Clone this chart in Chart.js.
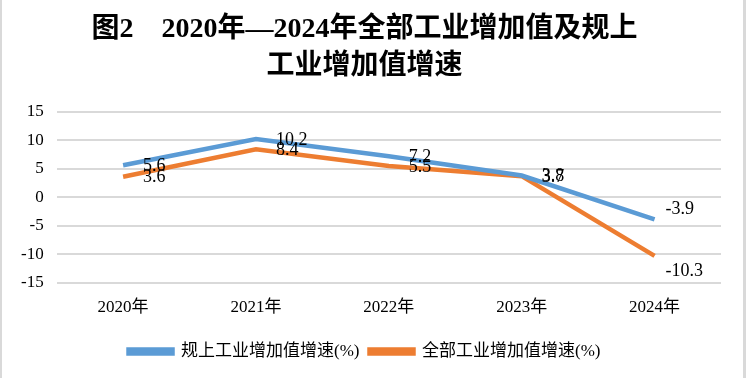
<!DOCTYPE html>
<html>
<head>
<meta charset="utf-8">
<script src="https://cdn.jsdelivr.net/npm/chart.js@4.4.1/dist/chart.umd.min.js"></script>
<style>
  html, body { margin: 0; padding: 0; background: #fff; }
  #wrap { width: 746px; height: 378px; position: relative; }
</style>
</head>
<body>
<div id="wrap"><canvas id="myChart" width="746" height="378"></canvas></div>
<script>
// data
var years = ['2020年', '2021年', '2022年', '2023年', '2024年'];
var guishang = [5.6, 10.2, 7.2, 3.8, -3.9];   // 规上工业增加值增速(%)
var quanbu = [3.6, 8.4, 5.5, 3.7, -10.3];     // 全部工业增加值增速(%)
var yTicks = [-15, -10, -5, 0, 5, 10, 15];

var serif = '"Liberation Serif", "Times New Roman", "Noto Sans CJK SC", serif';

// value labels to the right of each point (last ones nudged like the original)
var pointLabels = {
  id: 'pointLabels',
  afterDatasetsDraw: function(chart) {
    var ctx = chart.ctx;
    ctx.save();
    ctx.font = '18px ' + serif;
    ctx.fillStyle = '#000';
    ctx.textBaseline = 'middle';
    ctx.textAlign = 'left';
    chart.data.datasets.forEach(function(ds, i) {
      var meta = chart.getDatasetMeta(i);
      meta.data.forEach(function(pt, j) {
        var dx = 20, dy = 1;
        if (j === meta.data.length - 1) {
          dx = 11;
          dy = i === 0 ? -10 : 15;
        }
        ctx.fillText(String(ds.data[j]), pt.x + dx, pt.y + dy);
      });
    });
    ctx.restore();
  }
};

// grey side borders of the picture
var frame = {
  id: 'frame',
  afterDraw: function(chart) {
    var ctx = chart.ctx;
    ctx.save();
    ctx.fillStyle = '#d9d9d9';
    ctx.fillRect(0, 0, 2, chart.height);
    ctx.fillRect(743, 0, 3, chart.height);
    ctx.restore();
  }
};

var ctx = document.getElementById('myChart').getContext('2d');

var chart = new Chart(ctx, {
  type: 'line',
  data: {
    labels: years,
    datasets: [{
      label: '规上工业增加值增速(%)',
      data: guishang,
      borderColor: '#5B9BD5',
      backgroundColor: '#5B9BD5',
      borderWidth: 4.5,
      pointRadius: 0,
      tension: 0
    },
    {
      label: '全部工业增加值增速(%)',
      data: quanbu,
      borderColor: '#ED7D31',
      backgroundColor: '#ED7D31',
      borderWidth: 4.5,
      pointRadius: 0,
      tension: 0
    }]
  },
  options: {
    responsive: false,
    animation: false,
    layout: { padding: { left: 8, right: 25, top: 0, bottom: 8 } },
    plugins: {
      title: {
        display: true,
        text: ['图2　2020年—2024年全部工业增加值及规上', '工业增加值增速'],
        font: { family: serif, size: 28, weight: 'bold', lineHeight: 1.3 },
        color: '#000',
        padding: { top: 12, bottom: 27 }
      },
      legend: {
        position: 'bottom',
        labels: {
          font: { family: serif, size: 17 },
          color: '#000',
          boxWidth: 44,
          boxHeight: 4,
          padding: 10
        }
      },
      tooltip: { enabled: false }
    },
    scales: {
      x: {
        offset: true,
        grid: { display: false },
        border: { display: false },
        ticks: { font: { family: serif, size: 17 }, color: '#000', padding: 7 },
        afterFit: function(axis) { axis.height += 8; }
      },
      y: {
        min: -15,
        max: 15,
        afterBuildTicks: function(axis) {
          axis.ticks = yTicks.map(function(v) { return { value: v }; });
        },
        grid: { color: '#d9d9d9', lineWidth: 2, drawTicks: false },
        border: { display: false },
        ticks: { font: { family: serif, size: 17 }, color: '#000', padding: 13 }
      }
    }
  },
  plugins: [pointLabels, frame]
});
</script>
</body>
</html>
